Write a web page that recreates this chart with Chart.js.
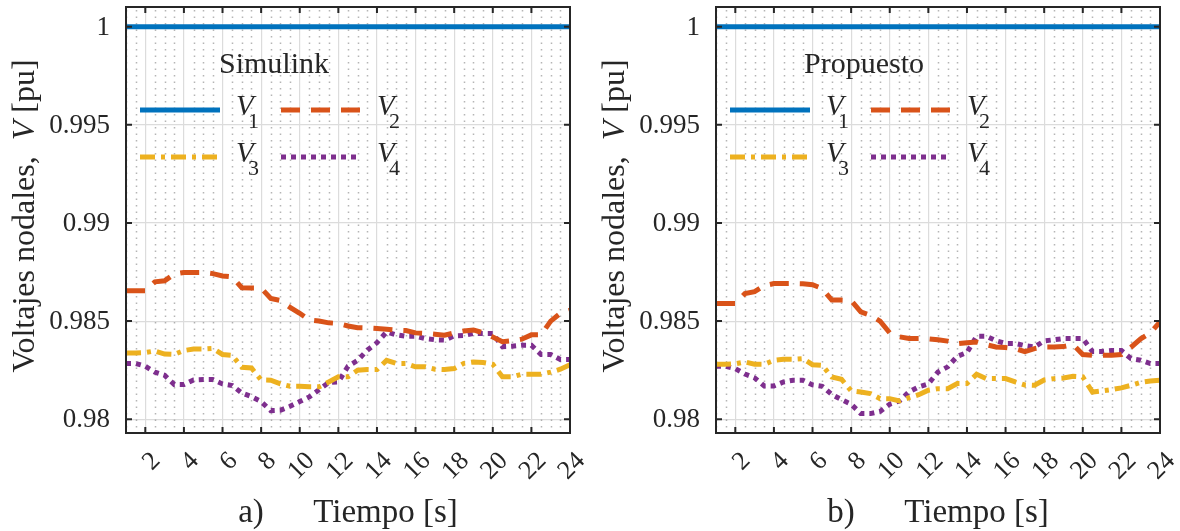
<!DOCTYPE html>
<html>
<head>
<meta charset="utf-8">
<script src="https://cdn.jsdelivr.net/npm/chart.js@4.4.1/dist/chart.umd.min.js"></script>
<style>
  html, body { margin: 0; padding: 0; background: #fff; }
  #wrap { position: relative; width: 1180px; height: 531px; }
  .panel { position: absolute; top: 0; width: 590px; height: 531px; }
</style>
</head>
<body>
<div id="wrap">
  <div class="panel" style="left:0"><canvas id="chartA" width="590" height="531"></canvas></div>
  <div class="panel" style="left:590px"><canvas id="chartB" width="590" height="531"></canvas></div>
</div>
<script>
// time axis (s)
const tSec = [1, 1.5, 2, 2.5, 3, 3.5, 4, 4.5, 5, 5.5, 6, 6.5, 7, 7.5, 8, 8.5, 9, 9.5, 10, 10.5,
  11, 11.5, 12, 12.5, 13, 13.5, 14, 14.5, 15, 15.5, 16, 16.5, 17, 17.5, 18, 18.5, 19, 19.5, 20, 20.5,
  21, 21.5, 22, 22.5, 23, 23.5, 24];
const v1Time = [1, 24];
const v1Level = [1, 1];

// a) Simulink
const simV2 = [0.98655, 0.98655, 0.98655, 0.98700, 0.98705, 0.98740, 0.98748, 0.98748, 0.98748, 0.98742,
  0.98730, 0.98725, 0.98670, 0.98668, 0.98668, 0.98615, 0.98605, 0.98570, 0.98540, 0.98505,
  0.98500, 0.98491, 0.98488, 0.98475, 0.98466, 0.98465, 0.98462, 0.98458, 0.98454, 0.98452,
  0.98440, 0.98438, 0.98433, 0.98428, 0.98440, 0.98450, 0.98455, 0.98440, 0.98419, 0.98395,
  0.98400, 0.98408, 0.98430, 0.98430, 0.98500, 0.98540, 0.98555];
const simV3 = [0.98338, 0.98338, 0.98340, 0.98348, 0.98332, 0.98330, 0.98350, 0.98358, 0.98358, 0.98361,
  0.98330, 0.98326, 0.98265, 0.98261, 0.98200, 0.98199, 0.98180, 0.98168, 0.98168, 0.98165,
  0.98165, 0.98190, 0.98216, 0.98216, 0.98250, 0.98253, 0.98253, 0.98300, 0.98284, 0.98284,
  0.98267, 0.98267, 0.98255, 0.98253, 0.98258, 0.98285, 0.98292, 0.98289, 0.98280, 0.98216,
  0.98216, 0.98229, 0.98229, 0.98229, 0.98240, 0.98255, 0.98278];
const simV4 = [0.98284, 0.98284, 0.98270, 0.98240, 0.98224, 0.98177, 0.98177, 0.98200, 0.98202, 0.98202,
  0.98180, 0.98172, 0.98134, 0.98115, 0.98090, 0.98044, 0.98046, 0.98066, 0.98090, 0.98114,
  0.98150, 0.98187, 0.98190, 0.98270, 0.98300, 0.98352, 0.98390, 0.98445, 0.98430, 0.98423,
  0.98423, 0.98411, 0.98405, 0.98403, 0.98425, 0.98427, 0.98437, 0.98437, 0.98437, 0.98370,
  0.98372, 0.98377, 0.98377, 0.98330, 0.98330, 0.98304, 0.98304];

// b) Propuesto
const propV2 = [0.98590, 0.98590, 0.98590, 0.98640, 0.98650, 0.98680, 0.98691, 0.98691, 0.98691, 0.98690,
  0.98685, 0.98666, 0.98607, 0.98607, 0.98605, 0.98547, 0.98530, 0.98500, 0.98440, 0.98420,
  0.98411, 0.98411, 0.98410, 0.98405, 0.98398, 0.98385, 0.98390, 0.98394, 0.98380, 0.98368,
  0.98365, 0.98360, 0.98345, 0.98360, 0.98368, 0.98368, 0.98370, 0.98380, 0.98330, 0.98326,
  0.98326, 0.98326, 0.98330, 0.98367, 0.98410, 0.98440, 0.98496];
const propV3 = [0.98280, 0.98280, 0.98282, 0.98292, 0.98280, 0.98280, 0.98300, 0.98306, 0.98306, 0.98309,
  0.98278, 0.98275, 0.98215, 0.98204, 0.98145, 0.98139, 0.98131, 0.98105, 0.98105, 0.98093,
  0.98110, 0.98125, 0.98148, 0.98156, 0.98156, 0.98182, 0.98182, 0.98229, 0.98207, 0.98207,
  0.98207, 0.98190, 0.98175, 0.98173, 0.98200, 0.98207, 0.98210, 0.98219, 0.98216, 0.98139,
  0.98145, 0.98151, 0.98160, 0.98173, 0.98188, 0.98195, 0.98199];
const propV4 = [0.98270, 0.98270, 0.98258, 0.98230, 0.98211, 0.98170, 0.98170, 0.98190, 0.98199, 0.98199,
  0.98175, 0.98168, 0.98126, 0.98100, 0.98077, 0.98029, 0.98029, 0.98040, 0.98077, 0.98093,
  0.98140, 0.98165, 0.98180, 0.98241, 0.98267, 0.98321, 0.98340, 0.98423, 0.98423, 0.98400,
  0.98386, 0.98386, 0.98375, 0.98368, 0.98399, 0.98405, 0.98411, 0.98411, 0.98411, 0.98345,
  0.98345, 0.98350, 0.98350, 0.98309, 0.98301, 0.98284, 0.98284];

const xTicks = [2, 4, 6, 8, 10, 12, 14, 16, 18, 20, 22, 24];
const yTicks = [0.98, 0.985, 0.99, 0.995, 1];
const yTickLabels = ['0.98', '0.985', '0.99', '0.995', '1'];
const seriesSubs = ['1', '2', '3', '4'];

const INK = '#262626';
const SERIF = '"Liberation Serif", "Times New Roman", serif';
const styles = [
  { color: '#0072BD', width: 5, dash: [] },
  { color: '#D95319', width: 5, dash: [19, 11] },
  { color: '#EDB120', width: 5, dash: [15, 6, 4, 6] },
  { color: '#7E2F8E', width: 5, dash: [5, 5] }
];

function pts(xs, ys) {
  return xs.map((x, i) => ({ x: x, y: ys[i] }));
}

// minor grid, frame, ticks, labels and legend drawn around chart.js scales
const decor = {
  id: 'decor',
  beforeDatasetsDraw(chart) {
    const { ctx, chartArea: a, scales: { x } } = chart;
    ctx.save();
    ctx.strokeStyle = 'rgba(120,120,120,0.55)';
    ctx.lineWidth = 1.5;
    ctx.setLineDash([1.5, 5]);
    for (let v = x.min; v <= x.max + 1e-9; v += 0.5) {
      if (xTicks.includes(v)) continue;
      const px = Math.round(x.getPixelForValue(v)) + 0.5;
      ctx.beginPath(); ctx.moveTo(px, a.top + 3); ctx.lineTo(px, a.bottom); ctx.stroke();
    }
    ctx.restore();
  },
  afterDraw(chart, args, opts) {
    const { ctx, chartArea: a, scales: { x, y } } = chart;
    ctx.save();
    // frame
    ctx.strokeStyle = INK;
    ctx.lineWidth = 2;
    ctx.strokeRect(a.left, a.top, a.right - a.left, a.bottom - a.top);
    ctx.beginPath();
    xTicks.forEach(v => {
      const px = x.getPixelForValue(v);
      ctx.moveTo(px, a.bottom); ctx.lineTo(px, a.bottom - 6);
      ctx.moveTo(px, a.top); ctx.lineTo(px, a.top + 6);
    });
    yTicks.forEach(v => {
      const py = y.getPixelForValue(v);
      ctx.moveTo(a.left, py); ctx.lineTo(a.left + 6, py);
      ctx.moveTo(a.right, py); ctx.lineTo(a.right - 6, py);
    });
    ctx.stroke();

    ctx.fillStyle = INK;
    // y tick labels
    ctx.font = '27px ' + SERIF;
    ctx.textAlign = 'right';
    ctx.textBaseline = 'middle';
    yTicks.forEach((v, i) => {
      ctx.fillText(yTickLabels[i], a.left - 16, y.getPixelForValue(v) + 1);
    });

    // rotated x tick labels
    ctx.font = '26px ' + SERIF;
    xTicks.forEach(v => {
      ctx.save();
      ctx.translate(x.getPixelForValue(v) + 11, a.bottom + 24);
      ctx.rotate(-Math.PI / 4);
      ctx.fillText(String(v), 0, 0);
      ctx.restore();
    });

    // x title
    ctx.textAlign = 'center';
    ctx.textBaseline = 'alphabetic';
    ctx.font = '33px ' + SERIF;
    ctx.fillText(opts.panel + '      Tiempo [s]', (a.left + a.right) / 2, 522);

    // y title with italic V
    const parts = [['Voltajes nodales,  ', ''], ['V', 'italic '], [' [pu]', '']];
    let total = 0;
    parts.forEach(p => { ctx.font = p[1] + '32px ' + SERIF; total += ctx.measureText(p[0]).width; });
    ctx.save();
    ctx.translate(34, (a.top + a.bottom) / 2 - 4);
    ctx.rotate(-Math.PI / 2);
    ctx.textAlign = 'left';
    let cx = -total / 2;
    parts.forEach(p => {
      ctx.font = p[1] + '32px ' + SERIF;
      ctx.fillText(p[0], cx, 0);
      cx += ctx.measureText(p[0]).width;
    });
    ctx.restore();

    // legend
    const L = a.left;
    ctx.textAlign = 'center';
    ctx.font = '30px ' + SERIF;
    ctx.fillText(opts.legendTitle, L + 148, 73);
    const cols = [14, 155];
    const rows = [110, 157];
    styles.forEach((s, i) => {
      const cx0 = L + cols[i % 2];
      const ry = rows[Math.floor(i / 2)];
      ctx.strokeStyle = s.color;
      ctx.lineWidth = s.width;
      ctx.setLineDash(s.dash);
      ctx.beginPath(); ctx.moveTo(cx0, ry); ctx.lineTo(cx0 + 80, ry); ctx.stroke();
      ctx.setLineDash([]);
      ctx.textAlign = 'left';
      ctx.font = 'italic 29px ' + SERIF;
      ctx.fillText('V', cx0 + 96, ry + 5);
      ctx.font = '22px ' + SERIF;
      ctx.fillText(seriesSubs[i], cx0 + 108, ry + 18);
    });
    ctx.restore();
  }
};

function makeChart(id, v2, v3, v4, panel, legendTitle) {
  const series = [pts(v1Time, v1Level), pts(tSec, v2), pts(tSec, v3), pts(tSec, v4)];
  new Chart(document.getElementById(id), {
    type: 'line',
    data: {
      datasets: series.map((d, i) => ({
        label: 'V' + seriesSubs[i],
        data: d,
        borderColor: styles[i].color,
        borderWidth: styles[i].width,
        borderDash: styles[i].dash,
        borderCapStyle: 'butt',
        pointRadius: 0,
        tension: 0,
        fill: false
      }))
    },
    options: {
      responsive: false,
      devicePixelRatio: 1,
      animation: false,
      layout: { padding: { top: 7, right: 20, left: 0, bottom: 0 } },
      plugins: {
        legend: { display: false },
        tooltip: { enabled: false },
        decor: { panel: panel, legendTitle: legendTitle }
      },
      scales: {
        x: {
          type: 'linear',
          bounds: 'data',
          min: 1,
          max: 24,
          afterBuildTicks: s => { s.ticks = xTicks.map(v => ({ value: v })); },
          afterFit: s => { s.height = 98; s.paddingLeft = 0; s.paddingRight = 0; },
          ticks: { display: false },
          grid: { color: '#dcdcdc', lineWidth: 1.2, drawTicks: false },
          border: { display: false }
        },
        y: {
          bounds: 'data',
          min: 0.9793,
          max: 1.001,
          afterBuildTicks: s => { s.ticks = yTicks.map(v => ({ value: v })); },
          afterFit: s => { s.width = 126; s.paddingTop = 0; s.paddingBottom = 0; },
          ticks: { display: false },
          grid: { color: '#dcdcdc', lineWidth: 1.2, drawTicks: false },
          border: { display: false }
        }
      }
    },
    plugins: [decor]
  });
}

makeChart('chartA', simV2, simV3, simV4, 'a)', 'Simulink');
makeChart('chartB', propV2, propV3, propV4, 'b)', 'Propuesto');
</script>
</body>
</html>
